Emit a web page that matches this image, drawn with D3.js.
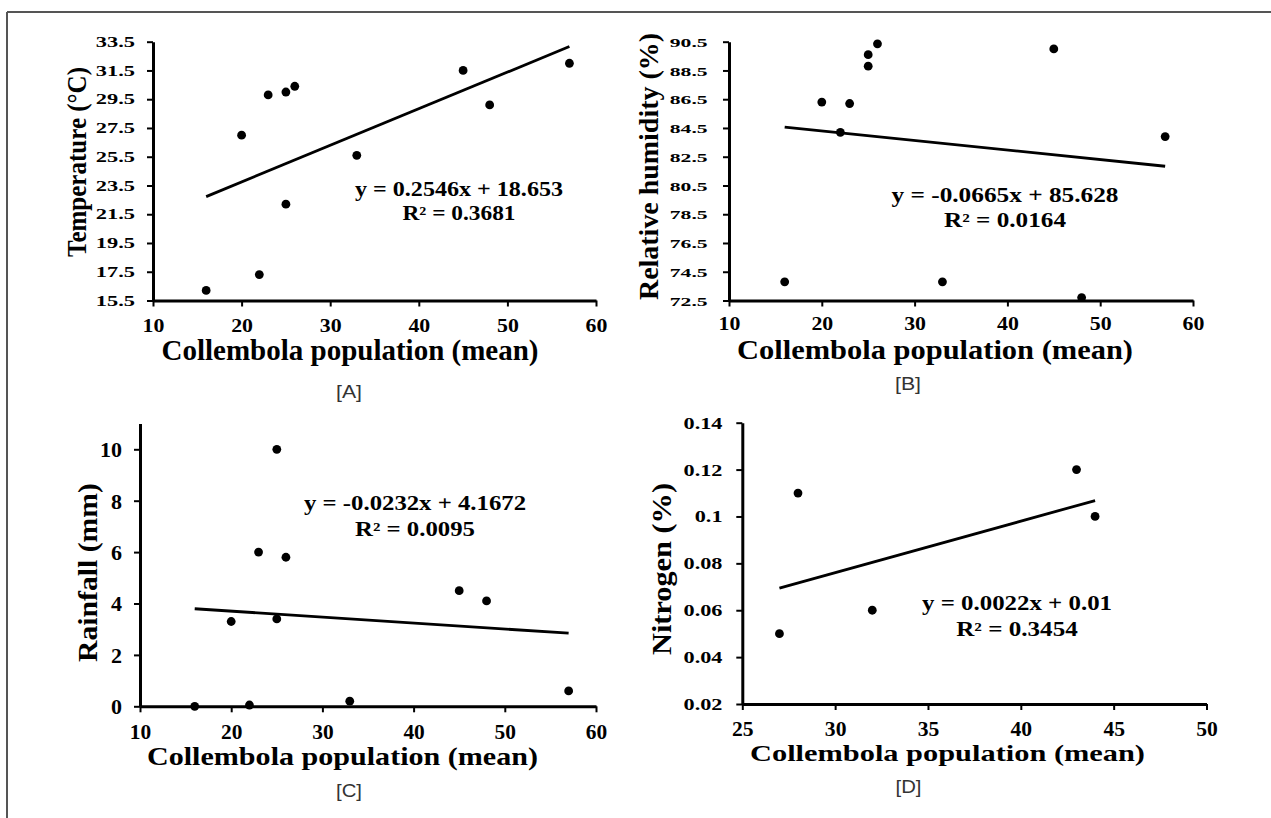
<!DOCTYPE html>
<html><head><meta charset="utf-8">
<script src="https://cdn.jsdelivr.net/npm/d3@7"></script>
<style>
body{margin:0;background:#fff}
svg{display:block}
.serif{font-family:"Liberation Serif","Times New Roman",serif;font-weight:bold;fill:#000}
.sans{font-family:"Liberation Sans",Arial,sans-serif;font-weight:normal;fill:#333}
</style>
</head><body>
<svg id="c" width="1271" height="818"></svg>
<script>
// ---------- DATA ----------
const popA  = [16, 20, 22, 23, 25, 25, 26, 33, 45, 48, 57];
const tempA = [16.2, 27.0, 17.3, 29.8, 30.0, 22.2, 30.4, 25.6, 31.5, 29.1, 32.0];
const popB  = [16, 20, 22, 23, 25, 25, 26, 33, 45, 48, 57];
const humB  = [73.8, 86.3, 84.2, 86.2, 89.6, 88.8, 90.35, 73.8, 90.0, 72.7, 83.9];
const popC  = [16, 20, 22, 23, 25, 25, 26, 33, 45, 48, 57];
const rainC = [0, 3.3, 0.05, 6.0, 10.0, 3.4, 5.8, 0.2, 4.5, 4.1, 0.6];
const popD  = [27, 28, 32, 43, 44];
const nitD  = [0.05, 0.11, 0.06, 0.12, 0.10];

const slopes     = [0.2546, -0.0665, -0.0232, 0.0022];
const intercepts = [18.653, 85.628, 4.1672, 0.01];
const equations  = ["y = 0.2546x + 18.653", "y = -0.0665x + 85.628", "y = -0.0232x + 4.1672", "y = 0.0022x + 0.01"];
const rSquared   = ["R² = 0.3681", "R² = 0.0164", "R² = 0.0095", "R² = 0.3454"];

const xTicksABC = [10, 20, 30, 40, 50, 60];
const xTicksD   = [25, 30, 35, 40, 45, 50];
const yTicksA   = [15.5, 17.5, 19.5, 21.5, 23.5, 25.5, 27.5, 29.5, 31.5, 33.5];
const yTicksB   = [72.5, 74.5, 76.5, 78.5, 80.5, 82.5, 84.5, 86.5, 88.5, 90.5];
const yTicksC   = [0, 2, 4, 6, 8, 10];
const yTicksD   = [0.02, 0.04, 0.06, 0.08, 0.1, 0.12, 0.14];

const xTitle  = "Collembola population (mean)";
const yTitles = ["Temperature (°C)", "Relative humidity (%)", "Rainfall (mm)", "Nitrogen (%)"];
const panelLabels = ["[A]", "[B]", "[C]", "[D]"];

// ---------- LAYOUT ----------
const panels = [
 {x:popA, y:tempA, xd:[10,60], yd:[15.5,33.5], xr:[153,596], yr:[300.5,41.7], xt:xTicksABC, yt:yTicksA, yfmt:d=>d.toFixed(1),
  yl:{f:14, sx:1.6, right:135}, xl:{f:19, sx:1.15, base:331.5},
  title:{cx:350, base:359.5, f:29, len:377}, yti:{cx:77.5, cy:162, f:27, len:190},
  eq:{cx:459, base:196, len:208}, r2:{cx:459, base:219.5, len:113}, lab:{cx:349, base:398}},
 {x:popB, y:humB, xd:[10,60], yd:[72.5,90.5], xr:[729,1193], yr:[300.5,41.7], xt:xTicksABC, yt:yTicksB, yfmt:d=>d.toFixed(1),
  yl:{f:13.5, sx:1.6, right:707.6}, xl:{f:19, sx:1.15, base:329.5},
  title:{cx:935, base:358.5, f:28, len:396}, yti:{cx:649.6, cy:166.5, f:27, len:267},
  eq:{cx:1005, base:201.5, len:227}, r2:{cx:1005, base:226.5, len:122}, lab:{cx:908, base:390}},
 {x:popC, y:rainC, xd:[10,60], yd:[0,11], xr:[140,596], yr:[706.3,423.6], xt:xTicksABC, yt:yTicksC, yfmt:d=>String(d),
  yl:{f:22, sx:1.0, right:122}, xl:{f:20, sx:1.07, base:738.5},
  title:{cx:342.5, base:765, f:25, len:391}, yti:{cx:88.8, cy:572.5, f:27, len:179},
  eq:{cx:415, base:509.5, len:222}, r2:{cx:415, base:535.5, len:120}, lab:{cx:349, base:797}},
 {x:popD, y:nitD, xd:[25,50], yd:[0.02,0.14], xr:[742.3,1206.5], yr:[704,422.7], xt:xTicksD, yt:yTicksD, yfmt:d=>String(+d.toFixed(2)),
  yl:{f:16, sx:1.39, right:722.5}, xl:{f:20, sx:1.08, base:735.5},
  title:{cx:947.5, base:761, f:24, len:395}, yti:{cx:662.5, cy:569, f:28, len:172},
  eq:{cx:1017, base:609.5, len:190}, r2:{cx:1017, base:635.5, len:121.5}, lab:{cx:908.5, base:793}}
];

const svg = d3.select("#c");
svg.append("rect").attr("width",1271).attr("height",818).attr("fill","#fff");
// frame (top & left edges)
svg.append("line").attr("x1",7).attr("y1",12).attr("x2",1271).attr("y2",12).attr("stroke","#555").attr("stroke-width",2);
svg.append("line").attr("x1",7).attr("y1",12).attr("x2",7).attr("y2",818).attr("stroke","#555").attr("stroke-width",2);

panels.forEach((p,i)=>{
  const xs = d3.scaleLinear().domain(p.xd).range(p.xr);
  const ys = d3.scaleLinear().domain(p.yd).range(p.yr);
  const g = svg.append("g");

  // x axis
  const xAxisG = g.append("g").attr("transform",`translate(0,${p.yr[0]})`)
    .call(d3.axisBottom(xs).tickValues(p.xt).tickSize(6).tickSizeOuter(0).tickFormat(d=>String(d)));
  xAxisG.attr("font-family",null);
  xAxisG.select(".domain").attr("stroke","#000").attr("stroke-width",3);
  xAxisG.selectAll(".tick line").attr("stroke","#000").attr("stroke-width",2);
  xAxisG.selectAll(".tick text").attr("class","serif").attr("font-size",p.xl.f)
    .attr("y",null).attr("dy",null).attr("fill","#000")
    .attr("transform",`translate(0,${p.xl.base - p.yr[0]}) scale(${p.xl.sx},1)`);

  // y axis
  const yAxisG = g.append("g").attr("transform",`translate(${p.xr[0]},0)`)
    .call(d3.axisLeft(ys).tickValues(p.yt).tickSize(6).tickSizeOuter(0).tickFormat(p.yfmt));
  yAxisG.attr("font-family",null);
  yAxisG.select(".domain").attr("stroke","#000").attr("stroke-width",3);
  yAxisG.selectAll(".tick line").attr("stroke","#000").attr("stroke-width",2);
  yAxisG.selectAll(".tick text").attr("class","serif").attr("font-size",p.yl.f)
    .attr("x",null).attr("dy","0.34em").attr("fill","#000")
    .attr("transform",`translate(${p.yl.right - p.xr[0]},0) scale(${p.yl.sx},1)`);

  // trend line
  const xmin = d3.min(p.x), xmax = d3.max(p.x);
  g.append("line")
    .attr("x1",xs(xmin)).attr("y1",ys(slopes[i]*xmin+intercepts[i]))
    .attr("x2",xs(xmax)).attr("y2",ys(slopes[i]*xmax+intercepts[i]))
    .attr("stroke","#000").attr("stroke-width",2.8);

  // points
  g.selectAll("circle.pt").data(p.x.map((v,k)=>[v,p.y[k]])).enter().append("circle")
    .attr("cx",d=>xs(d[0])).attr("cy",d=>ys(d[1])).attr("r",4.4).attr("fill","#000");

  // equation texts
  g.append("text").attr("class","serif").attr("x",p.eq.cx).attr("y",p.eq.base)
    .attr("text-anchor","middle").attr("font-size",20)
    .attr("textLength",p.eq.len).attr("lengthAdjust","spacingAndGlyphs").text(equations[i]);
  g.append("text").attr("class","serif").attr("x",p.r2.cx).attr("y",p.r2.base)
    .attr("text-anchor","middle").attr("font-size",20)
    .attr("textLength",p.r2.len).attr("lengthAdjust","spacingAndGlyphs").text(rSquared[i]);

  // x title
  g.append("text").attr("class","serif").attr("x",p.title.cx).attr("y",p.title.base)
    .attr("text-anchor","middle").attr("font-size",p.title.f)
    .attr("textLength",p.title.len).attr("lengthAdjust","spacingAndGlyphs").text(xTitle);

  // y title
  g.append("text").attr("class","serif")
    .attr("transform",`translate(${p.yti.cx},${p.yti.cy}) rotate(-90)`)
    .attr("text-anchor","middle").attr("dy","0.3em").attr("font-size",p.yti.f)
    .attr("textLength",p.yti.len).attr("lengthAdjust","spacingAndGlyphs").text(yTitles[i]);

  // panel label
  g.append("text").attr("class","sans").attr("x",p.lab.cx).attr("y",p.lab.base)
    .attr("text-anchor","middle").attr("font-size",19)
    .attr("textLength",26).attr("lengthAdjust","spacingAndGlyphs").text(panelLabels[i]);
});
</script>
</body></html>
